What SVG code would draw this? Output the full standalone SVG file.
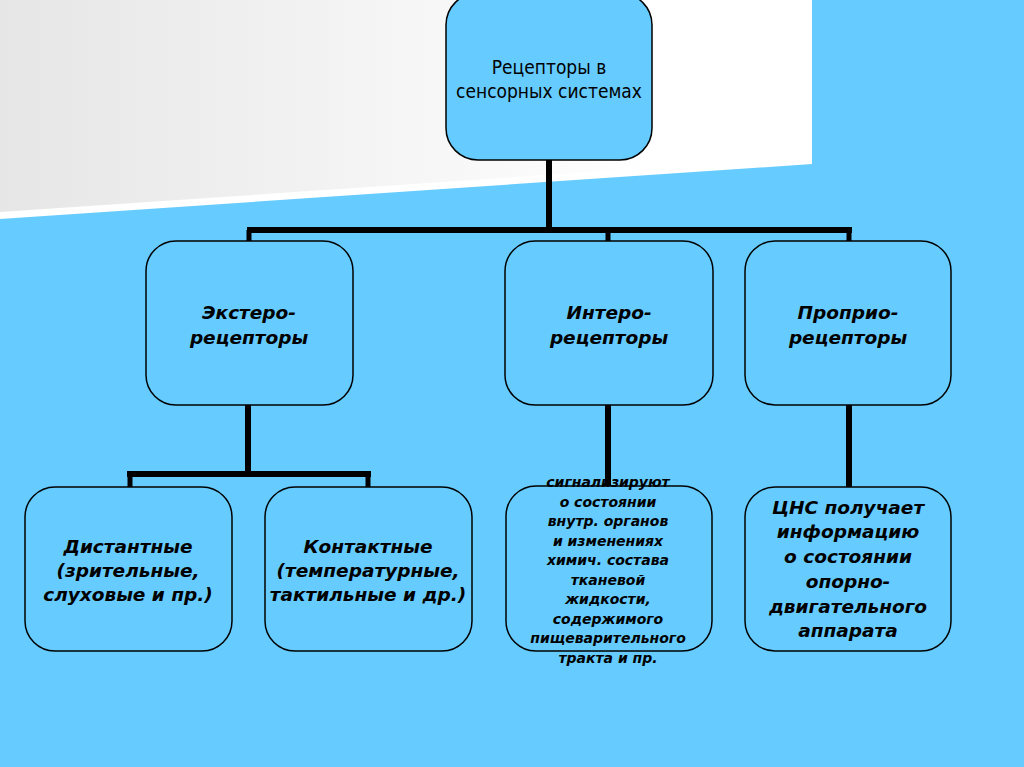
<svg xmlns="http://www.w3.org/2000/svg" width="1024" height="767" viewBox="0 0 1024 767">
<defs>
<linearGradient id="gr" x1="0" y1="0" x2="1" y2="0">
<stop offset="0" stop-color="#e6e6e6"/>
<stop offset="0.8" stop-color="#ffffff"/>
<stop offset="1" stop-color="#ffffff"/>
</linearGradient>
<style>
.box{fill:#66CCFF;stroke:#000;stroke-width:1.5}
.t{font-family:"DejaVu Sans","Liberation Sans",sans-serif;font-weight:bold;font-style:italic;font-size:18.5px;fill:#000;text-anchor:middle}
.s{font-size:14px}
.top{font-family:"DejaVu Sans Condensed","DejaVu Sans","Liberation Sans",sans-serif;font-size:19px;fill:#000;text-anchor:middle}
.c{stroke:#000;fill:none}
</style>
</defs>
<rect x="0" y="0" width="1024" height="767" fill="#66CCFF"/>
<polygon points="0,0 812,0 812,164 0,219" fill="#ffffff"/>
<polygon points="0,0 812,0 812,157 0,212" fill="url(#gr)"/>
<g id="connectors">
<line class="c" x1="549" y1="160" x2="549" y2="230" stroke-width="6"/>
<line class="c" x1="247" y1="230" x2="852" y2="230" stroke-width="6"/>
<line class="c" x1="249" y1="230" x2="249" y2="241" stroke-width="5"/>
<line class="c" x1="608" y1="230" x2="608" y2="241" stroke-width="5"/>
<line class="c" x1="849" y1="230" x2="849" y2="241" stroke-width="5"/>
<line class="c" x1="248" y1="405" x2="248" y2="474" stroke-width="6"/>
<line class="c" x1="127" y1="474" x2="371" y2="474" stroke-width="6"/>
<line class="c" x1="130" y1="474" x2="130" y2="487" stroke-width="5"/>
<line class="c" x1="368" y1="474" x2="368" y2="487" stroke-width="5"/>
<line class="c" x1="608" y1="405" x2="608" y2="487" stroke-width="6"/>
<line class="c" x1="849" y1="405" x2="849" y2="487" stroke-width="6"/>
</g>
<g id="root">
<rect class="box" x="446" y="-7" width="206" height="167" rx="32"/>
<text class="top" x="549" y="74">Рецепторы в</text>
<text class="top" x="549" y="98">сенсорных системах</text>
</g>
<g id="extero">
<rect class="box" x="146" y="241" width="207" height="164" rx="30"/>
<text class="t" x="249" y="319">Экстеро-</text>
<text class="t" x="249" y="344">рецепторы</text>
</g>
<g id="intero">
<rect class="box" x="505" y="241" width="208" height="164" rx="30"/>
<text class="t" x="609" y="319">Интеро-</text>
<text class="t" x="609" y="344">рецепторы</text>
</g>
<g id="proprio">
<rect class="box" x="745" y="241" width="206" height="164" rx="30"/>
<text class="t" x="848" y="319">Проприо-</text>
<text class="t" x="848" y="344">рецепторы</text>
</g>
<g id="distant">
<rect class="box" x="25" y="487" width="207" height="164" rx="30"/>
<text class="t" x="128" y="553">Дистантные</text>
<text class="t" x="128" y="577">(зрительные,</text>
<text class="t" x="128" y="601">слуховые и пр.)</text>
</g>
<g id="contact">
<rect class="box" x="265" y="487" width="207" height="164" rx="30"/>
<text class="t" x="368" y="553">Контактные</text>
<text class="t" x="368" y="577">(температурные,</text>
<text class="t" x="368" y="601">тактильные и др.)</text>
</g>
<g id="intero-desc">
<rect class="box" x="506" y="486" width="206" height="165" rx="30"/>
<text class="t s" x="608" y="487">сигнализируют</text>
<text class="t s" x="608" y="507">о состоянии</text>
<text class="t s" x="608" y="526">внутр. органов</text>
<text class="t s" x="608" y="546">и изменениях</text>
<text class="t s" x="608" y="565">химич. состава</text>
<text class="t s" x="608" y="585">тканевой</text>
<text class="t s" x="608" y="604">жидкости,</text>
<text class="t s" x="608" y="624">содержимого</text>
<text class="t s" x="608" y="643">пищеварительного</text>
<text class="t s" x="608" y="663">тракта и пр.</text>
</g>
<g id="proprio-desc">
<rect class="box" x="745" y="487" width="206" height="164" rx="30"/>
<text class="t" x="848" y="514">ЦНС получает</text>
<text class="t" x="848" y="538">информацию</text>
<text class="t" x="848" y="563">о состоянии</text>
<text class="t" x="848" y="588">опорно-</text>
<text class="t" x="848" y="613">двигательного</text>
<text class="t" x="848" y="637">аппарата</text>
</g>
</svg>
